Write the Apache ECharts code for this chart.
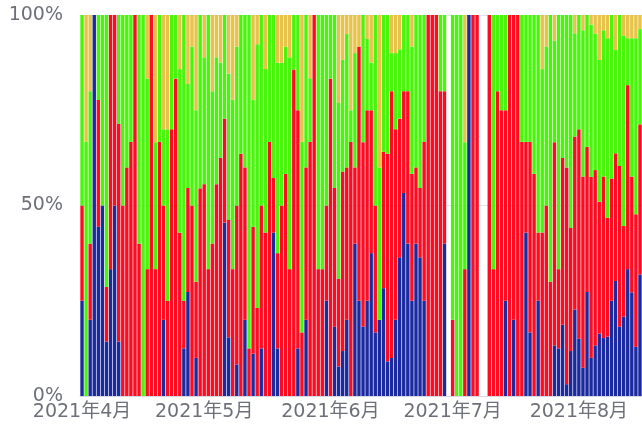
<!DOCTYPE html>
<html>
<head>
<meta charset="utf-8">
<script src="https://cdn.jsdelivr.net/npm/echarts@6/dist/echarts.min.js"></script>
<style>
html, body { margin: 0; padding: 0; background: #ffffff; }
#chart { width: 642px; height: 428px; }
</style>
</head>
<body>
<div id="chart"></div>
<script>
// Daily share (%) of each group, stacked to 100%. null = no record that day.
const firstDay = '2021-04-01';
const dayCount = 138;

const blueShare = [
  25, 0, 20, 100, 44.4, 50, 14.3, 33.3, 50, 14.3,
  0, 0, 0, 0, 0, 0, 0, 0, 0, 0,
  20, 0, 0, 0, 0, 12.5, 27.3, 0, 10, 0,
  0, 0, 0, 0, 0, 45.5, 15.4, 0, 8.3, 0,
  20, 0, 11.1, 0, 12.5, 0, 0, 42.9, 12.5, 0,
  0, 0, 0, 12.5, 0, 20, 0, 0, 0, 0,
  25, 0, 18.2, 7.7, 11.8, 20, 0, 40, 25, 18.2,
  25, 37.5, 16.7, 20, 28.3, 9.1, 10, 20, 36.4, 53.3,
  40, 25, 40, 36.4, 25, 0, 0, 0, 0, 40,
  null, 0, 0, 0, 0, 100, 0, 0, null, null,
  0, 0, 0, 0, 25, 0, 20, 0, 0, 42.9,
  16.7, 0, 25, 0, 0, 0, 13.3, 12.5, 18.7, 3.1,
  11.8, 22.7, 15, 7.4, 27.3, 10, 13.3, 16.4, 15.2, 15.6,
  25, 30.2, 18.2, 20.8, 33.3, 27.2, 12.9, 31.9
];

const redShare = [
  25, 0, 20, 0, 33.3, 0, 14.3, 66.7, 50, 57.1,
  50, 60, 66.7, 100, 40, 0, 33.3, 100, 33.3, 66.7,
  30, 25, 70, 83.3, 42.9, 12.5, 27.3, 50, 20, 54.5,
  55.6, 33.3, 40, 55.6, 62.5, 27.3, 30.8, 33.3, 41.7, 63.6,
  40, 12.5, 33.3, 23.1, 37.5, 42.9, 66.7, 14.3, 25, 50,
  58.3, 33.3, 85.7, 62.5, 16.7, 40, 66.7, 100, 33.3, 33.3,
  25, 83.3, 36.4, 23.1, 47.1, 40, 66.7, 20, 66.7, 48.4,
  50, 37.5, 33.3, 0, 35.8, 54.5, 70, 50, 36.4, 26.7,
  40, 33.3, 20, 18.2, 41.7, 100, 100, 100, 80, 40,
  null, 20, 0, 0, 33.3, 0, 100, 100, null, null,
  100, 33.3, 80, 75, 50, 100, 80, 100, 66.7, 23.8,
  50, 58.3, 17.9, 42.9, 50, 30, 53.3, 20.8, 43.8, 56.9,
  32.3, 45.4, 55, 50.2, 38.1, 47.5, 46, 34.6, 42.4, 31.2,
  32.1, 33.5, 42.2, 23.8, 48.3, 30.4, 34.8, 39.4
];

const greenShare = [
  50, 66.7, 40, 0, 22.3, 50, 71.4, 0, 0, 28.6,
  50, 40, 33.3, 0, 60, 100, 50, 0, 33.3, 33.3,
  20, 45, 30, 16.7, 42.9, 75, 27.3, 41.7, 45, 45.5,
  33.3, 66.7, 40, 33.3, 25, 27.2, 38.4, 44.5, 41.7, 36.4,
  40, 87.5, 33.4, 69.2, 50, 42.9, 33.3, 42.8, 50, 37.5,
  33.4, 55.6, 14.3, 25, 50, 40, 16.7, 0, 66.7, 66.7,
  50, 16.7, 45.4, 46.1, 29.4, 35, 8.3, 30, 0, 33.4,
  18.7, 12.5, 50, 40, 35.9, 36.4, 10, 20, 18.2, 20,
  20, 33.4, 40, 45.4, 33.3, 0, 0, 0, 20, 20,
  null, 80, 100, 100, 33.3, 0, 0, 0, null, null,
  0, 66.7, 20, 25, 25, 0, 0, 0, 33.3, 33.3,
  33.3, 41.7, 57.1, 42.9, 41.7, 70, 26.7, 66.7, 37.5, 40,
  55.9, 27.1, 30, 38.4, 34.6, 40, 35.8, 37.2, 38.4, 47.1,
  42.9, 27.1, 39.6, 50, 12.3, 36.3, 46.2, 25
];

const yellowShare = [
  0, 33.3, 20, 0, 0, 0, 0, 0, 0, 0,
  0, 0, 0, 0, 0, 0, 16.7, 0, 33.4, 0,
  30, 30, 0, 0, 14.2, 0, 18.1, 8.3, 25, 0,
  11.1, 0, 20, 11.1, 12.5, 0, 15.4, 22.2, 8.3, 0,
  0, 0, 22.2, 7.7, 0, 14.2, 0, 0, 12.5, 12.5,
  8.3, 11.1, 0, 0, 33.3, 0, 16.6, 0, 0, 0,
  0, 0, 0, 23.1, 11.7, 5, 25, 10, 8.3, 0,
  6.3, 12.5, 0, 40, 0, 0, 10, 10, 9, 0,
  0, 8.3, 0, 0, 0, 0, 0, 0, 0, 0,
  null, 0, 0, 0, 33.4, 0, 0, 0, null, null,
  0, 0, 0, 0, 0, 0, 0, 0, 0, 0,
  0, 0, 0, 14.2, 8.3, 0, 6.7, 0, 0, 0,
  0, 4.8, 0, 4, 0, 2.5, 4.9, 11.8, 4, 6.1,
  0, 9.2, 0, 5.4, 6.1, 6.1, 6.1, 3.7
];

const yTicks = [0, 50, 100];

// one category per calendar day
const days = [];
{
  const d = new Date(firstDay + 'T00:00:00Z');
  for (let i = 0; i < dayCount; i++) {
    days.push(d.toISOString().slice(0, 10));
    d.setUTCDate(d.getUTCDate() + 1);
  }
}

const colors = {
  blue: '#1b2a9e',
  red: '#fe0b22',
  green: '#49f60b',
  yellow: '#e8c349'
};

const font = '"DejaVu Sans", "Noto Sans CJK SC", sans-serif';

function barSeries(name, data, color) {
  return {
    name: name,
    type: 'bar',
    stack: 'share',
    data: data,
    barWidth: '84%',
    itemStyle: { color: color },
    emphasis: { disabled: true },
    animation: false
  };
}

const chart = echarts.init(document.getElementById('chart'), null, { renderer: 'canvas' });
chart.setOption({
  animation: false,
  grid: { left: 80, right: -1, top: 15, bottom: 32, containLabel: false },
  xAxis: {
    type: 'category',
    data: days,
    boundaryGap: true,
    axisTick: { show: false },
    axisLine: { show: true, lineStyle: { color: '#d6d9e0' } },
    axisLabel: {
      interval: function (index, value) { return value.slice(8) === '01'; },
      formatter: function (value) {
        return value.slice(0, 4) + '年' + parseInt(value.slice(5, 7), 10) + '月';
      },
      color: '#6e7079',
      fontSize: 19,
      fontFamily: font,
      margin: 7
    }
  },
  yAxis: {
    type: 'value',
    min: yTicks[0],
    max: yTicks[yTicks.length - 1],
    interval: yTicks[1] - yTicks[0],
    axisLabel: {
      formatter: '{value}%',
      color: '#6e7079',
      fontSize: 19,
      fontFamily: font,
      margin: 17
    },
    axisLine: { show: false },
    axisTick: { show: false },
    splitLine: { lineStyle: { color: '#e0e6f1' } }
  },
  series: [
    barSeries('blue', blueShare, colors.blue),
    barSeries('red', redShare, colors.red),
    barSeries('green', greenShare, colors.green),
    barSeries('yellow', yellowShare, colors.yellow)
  ]
});
</script>
</body>
</html>
